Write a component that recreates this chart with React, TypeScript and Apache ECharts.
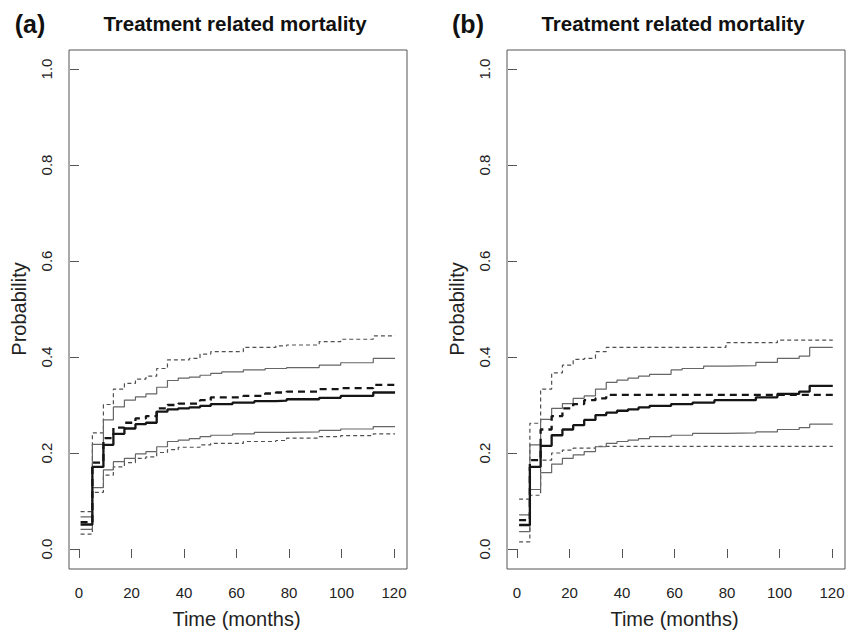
import React, { useEffect, useRef } from "react";
import * as echarts from "echarts";

// ---------- data ----------
const panelLabels = ["(a)", "(b)"];
const panelTitle = "Treatment related mortality";
const xTicks = [0, 20, 40, 60, 80, 100, 120];
const yTicks = [0, 0.2, 0.4, 0.6, 0.8, 1.0];
const xName = "Time (months)";
const yName = "Probability";

// Panel (a)
const timesA = [0.6, 5.1, 9.3, 13.1, 17.3, 21.5, 25.5, 29.6, 33.7, 37.8, 42.0, 46.1, 50.2, 54.4, 58.5, 62.6, 66.8, 70.9, 75.0, 79.1, 91.5, 99.7, 112.1, 120.4];
const estA = [0.051, 0.171, 0.217, 0.24, 0.251, 0.26, 0.263, 0.286, 0.291, 0.293, 0.295, 0.298, 0.302, 0.302, 0.305, 0.305, 0.308, 0.308, 0.309, 0.312, 0.315, 0.319, 0.326, 0.326];
const altA = [0.056, 0.18, 0.231, 0.253, 0.263, 0.272, 0.277, 0.293, 0.3, 0.303, 0.303, 0.31, 0.316, 0.316, 0.316, 0.319, 0.319, 0.324, 0.326, 0.328, 0.333, 0.335, 0.342, 0.342];
const upperA = [0.067, 0.218, 0.269, 0.296, 0.31, 0.317, 0.323, 0.337, 0.351, 0.356, 0.358, 0.362, 0.366, 0.369, 0.369, 0.373, 0.373, 0.376, 0.376, 0.378, 0.383, 0.388, 0.397, 0.397];
const lowerA = [0.041, 0.128, 0.165, 0.182, 0.189, 0.198, 0.203, 0.213, 0.224, 0.227, 0.23, 0.234, 0.237, 0.237, 0.24, 0.24, 0.243, 0.243, 0.243, 0.244, 0.247, 0.25, 0.255, 0.255];
const upperAltA = [0.078, 0.242, 0.301, 0.333, 0.345, 0.354, 0.36, 0.376, 0.394, 0.394, 0.397, 0.406, 0.411, 0.411, 0.411, 0.42, 0.42, 0.42, 0.423, 0.425, 0.432, 0.437, 0.444, 0.444];
const lowerAltA = [0.031, 0.118, 0.154, 0.171, 0.18, 0.189, 0.192, 0.201, 0.207, 0.212, 0.212, 0.217, 0.22, 0.22, 0.22, 0.224, 0.224, 0.224, 0.226, 0.231, 0.234, 0.236, 0.24, 0.24];

// Panel (b)
const timesB = [0.8, 4.9, 9.0, 13.2, 17.3, 21.4, 25.6, 29.9, 34.0, 38.1, 42.3, 46.3, 50.5, 54.7, 58.7, 62.9, 66.9, 71.1, 75.2, 79.6, 91.0, 99.2, 107.5, 111.5, 120.3];
const estB = [0.05, 0.171, 0.215, 0.237, 0.249, 0.258, 0.269, 0.279, 0.284, 0.288, 0.291, 0.295, 0.298, 0.298, 0.302, 0.302, 0.305, 0.305, 0.31, 0.31, 0.316, 0.323, 0.328, 0.34, 0.34];
const altB = [0.06, 0.185, 0.249, 0.277, 0.293, 0.302, 0.31, 0.314, 0.321, 0.321, 0.321, 0.321, 0.321, 0.321, 0.321, 0.321, 0.321, 0.321, 0.321, 0.321, 0.321, 0.321, 0.321, 0.321, 0.321];
const upperB = [0.071, 0.217, 0.27, 0.293, 0.303, 0.314, 0.319, 0.333, 0.347, 0.352, 0.356, 0.36, 0.364, 0.364, 0.373, 0.376, 0.376, 0.381, 0.381, 0.382, 0.389, 0.397, 0.402, 0.42, 0.42];
const lowerB = [0.036, 0.124, 0.159, 0.177, 0.189, 0.196, 0.203, 0.213, 0.22, 0.224, 0.227, 0.23, 0.234, 0.234, 0.237, 0.237, 0.241, 0.241, 0.241, 0.242, 0.244, 0.249, 0.253, 0.26, 0.26];
const upperAltB = [0.104, 0.262, 0.333, 0.367, 0.383, 0.395, 0.397, 0.411, 0.42, 0.42, 0.42, 0.42, 0.42, 0.42, 0.42, 0.42, 0.42, 0.42, 0.42, 0.43, 0.43, 0.435, 0.435, 0.435, 0.435];
const lowerAltB = [0.015, 0.112, 0.185, 0.2, 0.206, 0.21, 0.21, 0.214, 0.214, 0.214, 0.214, 0.214, 0.214, 0.214, 0.214, 0.214, 0.214, 0.214, 0.214, 0.214, 0.214, 0.214, 0.214, 0.214, 0.214];

const FONT = "'Liberation Sans', Arial, Helvetica, sans-serif";
const AXIS_COLOR = "#555";
const TEXT_COLOR = "#222";

type Panel = {
  times: number[];
  lines: { values: number[]; kind: "est" | "alt" | "ci" | "ciAlt" }[];
};

const panels: Panel[] = [
  {
    times: timesA,
    lines: [
      { values: upperAltA, kind: "ciAlt" },
      { values: lowerAltA, kind: "ciAlt" },
      { values: upperA, kind: "ci" },
      { values: lowerA, kind: "ci" },
      { values: altA, kind: "alt" },
      { values: estA, kind: "est" },
    ],
  },
  {
    times: timesB,
    lines: [
      { values: upperAltB, kind: "ciAlt" },
      { values: lowerAltB, kind: "ciAlt" },
      { values: upperB, kind: "ci" },
      { values: lowerB, kind: "ci" },
      { values: altB, kind: "alt" },
      { values: estB, kind: "est" },
    ],
  },
];

const styleFor = (kind: string) => {
  switch (kind) {
    case "est":
      return { color: "#151515", width: 2.3, type: "solid" as any };
    case "alt":
      return { color: "#151515", width: 2.3, type: [7, 5] as any };
    case "ci":
      return { color: "#666", width: 1.2, type: "solid" as any };
    default:
      return { color: "#505050", width: 1.2, type: [4, 3] as any };
  }
};

export default function App() {
  const ref = useRef<HTMLDivElement>(null);
  useEffect(() => {
    if (!ref.current) return;
    const chart = echarts.init(ref.current, undefined, { renderer: "svg" });

    const shift = 438;
    const grids: any[] = [];
    const xAxes: any[] = [];
    const yAxes: any[] = [];
    const series: any[] = [];
    const graphics: any[] = [];

    panels.forEach((p, i) => {
      const dx = i * shift;
      // frame grid
      grids.push({
        left: 69 + dx,
        top: 50,
        width: 338,
        height: 519,
        show: true,
        borderColor: AXIS_COLOR,
        borderWidth: 1,
        backgroundColor: "transparent",
        containLabel: false,
        outerBoundsMode: "none",
      });
      xAxes.push({ gridIndex: 2 * i, type: "value", show: false, min: 0, max: 1 });
      yAxes.push({ gridIndex: 2 * i, type: "value", show: false, min: 0, max: 1 });
      // data grid
      grids.push({
        left: 79 + dx,
        top: 69,
        width: 315,
        height: 480,
        show: false,
        containLabel: false,
        outerBoundsMode: "none",
      });
      xAxes.push({
        gridIndex: 2 * i + 1,
        type: "value",
        min: xTicks[0],
        max: xTicks[xTicks.length - 1],
        interval: 20,
        position: "bottom",
        offset: 20,
        axisLine: { show: false },
        axisTick: { show: true, inside: false, length: 9, lineStyle: { color: AXIS_COLOR, width: 1 } },
        axisLabel: { fontSize: 15, color: TEXT_COLOR, margin: 16, fontFamily: FONT },
        splitLine: { show: false },
        name: xName,
        nameLocation: "middle",
        nameGap: 40,
        nameTextStyle: { fontSize: 20, color: TEXT_COLOR, fontFamily: FONT },
      });
      yAxes.push({
        gridIndex: 2 * i + 1,
        type: "value",
        min: yTicks[0],
        max: yTicks[yTicks.length - 1],
        interval: 0.2,
        position: "left",
        offset: 10,
        axisLine: { show: false },
        axisTick: { show: true, inside: false, length: 9, lineStyle: { color: AXIS_COLOR, width: 1 } },
        axisLabel: {
          fontSize: 15,
          color: TEXT_COLOR,
          margin: 15,
          rotate: 90,
          fontFamily: FONT,
          formatter: (v: number) => v.toFixed(1),
        },
        splitLine: { show: false },
        name: yName,
        nameLocation: "middle",
        nameGap: 40,
        nameTextStyle: { fontSize: 20, color: TEXT_COLOR, fontFamily: FONT },
      });

      p.lines.forEach((ln) => {
        const ls = styleFor(ln.kind);
        series.push({
          type: "line",
          xAxisIndex: 2 * i + 1,
          yAxisIndex: 2 * i + 1,
          data: p.times.map((t, k) => [t, ln.values[k]]),
          step: "end",
          symbol: "none",
          clip: false,
          silent: true,
          lineStyle: { color: ls.color, width: ls.width, type: ls.type, cap: "butt" },
          z: ln.kind === "est" || ln.kind === "alt" ? 3 : 2,
        });
      });

      graphics.push({
        type: "text",
        x: 30 + dx,
        y: 23.5,
        style: {
          text: panelLabels[i],
          fontSize: 25,
          fontWeight: "bold",
          fontFamily: FONT,
          fill: "#111",
          textAlign: "center",
          textVerticalAlign: "middle",
        },
      });
      graphics.push({
        type: "text",
        x: 235 + dx,
        y: 23.5,
        style: {
          text: panelTitle,
          fontSize: 20.5,
          fontWeight: "bold",
          fontFamily: FONT,
          fill: "#111",
          textAlign: "center",
          textVerticalAlign: "middle",
        },
      });
    });

    chart.setOption({
      animation: false,
      backgroundColor: "#fff",
      grid: grids,
      xAxis: xAxes,
      yAxis: yAxes,
      series,
      graphic: graphics,
    });
    return () => chart.dispose();
  }, []);

  return <div ref={ref} style={{ width: 849, height: 637, position: "absolute", left: 0, top: 0 }} />;
}
